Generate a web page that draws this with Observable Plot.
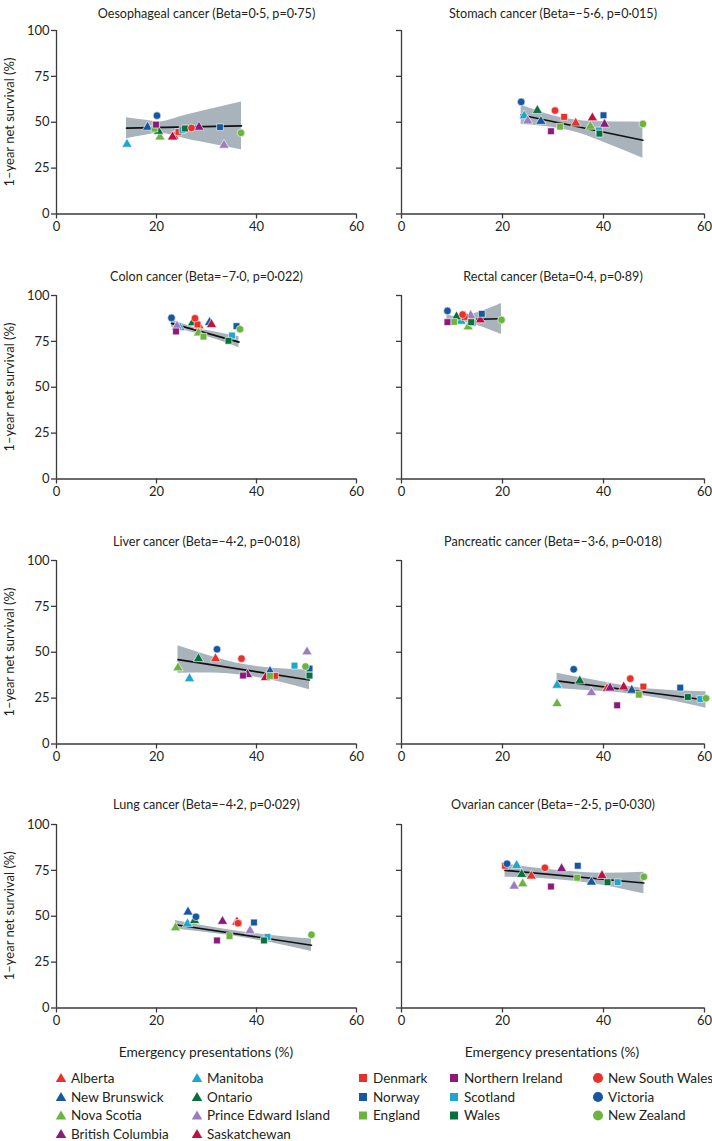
<!DOCTYPE html>
<html><head><meta charset="utf-8">
<script src="https://cdn.jsdelivr.net/npm/d3@7"></script>
<script src="https://cdn.jsdelivr.net/npm/@observablehq/plot@0.6"></script>
<style>
body{margin:0;background:#fff;}
#chart{position:relative;width:712px;height:1141px;overflow:hidden;font-family:Lato,"Open Sans",sans-serif;}
.panel{position:absolute;}
</style></head><body><div id="chart"></div>
<script>
// ---------- data ----------
const regions = ["Alberta","New Brunswick","Nova Scotia","British Columbia","Manitoba","Ontario","Prince Edward Island","Saskatchewan","Denmark","Norway","England","Northern Ireland","Scotland","Wales","New South Wales","Victoria","New Zealand"];
const regionColors = ["#e8312a","#1557a0","#6db33f","#8a1a7c","#1ea6cb","#08703a","#9c7dc0","#c0103f","#e8312a","#1557a0","#6db33f","#8a1a7c","#1ea6cb","#08703a","#e8312a","#1557a0","#6db33f"];
const regionShapes = ["triangle","triangle","triangle","triangle","triangle","triangle","triangle","triangle","square","square","square","square","square","square","circle","circle","circle"];
const legendColumns = [[0,1,2,3],[4,5,6,7],[8,9,10],[11,12,13],[14,15,16]];

const cancerTitles = [
  "Oesophageal cancer (Beta=0·5, p=0·75)",
  "Stomach cancer (Beta=–5·6, p=0·015)",
  "Colon cancer (Beta=–7·0, p=0·022)",
  "Rectal cancer (Beta=0·4, p=0·89)",
  "Liver cancer (Beta=–4·2, p=0·018)",
  "Pancreatic cancer (Beta=–3·6, p=0·018)",
  "Lung cancer (Beta=–4·2, p=0·029)",
  "Ovarian cancer (Beta=–2·5, p=0·030)"
];
const xTicks = [0, 20, 40, 60];
const yTicks = [0, 25, 50, 75, 100];
const yLabel = "1–year net survival (%)";
const xLabel = "Emergency presentations (%)";

// emergency presentations (%) and 1-year net survival (%), in region order
const oesophagealX = [23.5,18.2,20.7,28.5,14.1,20.4,33.5,23.2,24.4,32.7,19.6,19.9,25.2,25.7,27.0,20.1,36.9];
const oesophagealY = [42.3,47.3,42.0,47.3,38.0,45.1,37.5,42.0,44.7,47.3,46.5,48.7,45.8,46.6,46.9,53.6,44.2];
const stomachX = [34.5,27.6,37.4,40.2,24.3,26.9,25.0,37.8,32.2,40.0,31.4,29.6,39.1,39.2,30.4,23.7,47.8];
const stomachY = [49.5,50.5,47.8,48.9,53.5,56.4,50.7,52.4,52.9,53.8,47.6,45.1,45.5,43.8,56.4,61.1,49.1];
const colonX = [28.5,30.6,28.4,24.0,24.7,27.2,24.1,31.0,28.2,36.0,29.4,23.9,35.1,34.4,27.7,23.0,36.7];
const colonY = [83.5,85.3,79.6,82.8,82.5,85.1,83.3,84.2,84.2,83.3,77.6,80.4,78.2,75.3,87.6,87.8,81.6];
const rectalX = [12.6,11.6,13.2,13.6,11.8,10.9,13.7,15.6,12.5,15.9,10.4,9.1,14.1,13.8,12.1,9.1,19.8];
const rectalY = [88.7,86.5,82.9,88.3,86.0,88.4,89.1,86.7,88.3,90.0,85.6,85.5,85.1,85.5,89.6,91.6,86.7];
const liverX = [31.8,42.7,24.3,38.2,26.6,28.4,50.1,41.8,43.7,50.6,42.7,37.3,47.6,50.6,37.0,32.1,49.8];
const liverY = [46.5,39.6,41.5,37.8,35.6,46.5,50.2,36.2,37.1,41.1,37.1,37.3,42.7,37.3,46.5,51.6,42.2];
const pancreaticX = [40.7,45.6,30.8,41.3,30.8,35.3,37.6,44.0,47.9,55.2,47.0,42.7,59.2,56.7,45.3,34.1,60.3];
const pancreaticY = [30.2,29.3,22.0,30.5,32.0,34.4,28.0,31.1,31.3,30.7,26.9,21.1,24.5,25.6,35.6,40.7,24.9];
const lungX = [36.0,26.3,23.8,33.2,26.2,27.6,38.7,36.1,36.4,39.5,34.6,32.1,42.2,41.5,36.3,27.9,51.0];
const lungY = [46.9,52.3,43.7,47.2,45.9,47.7,42.1,46.8,46.3,46.6,39.2,36.8,38.7,36.8,46.2,49.7,39.9];
const ovarianX = [25.7,37.6,24.0,31.7,22.8,23.8,22.3,39.7,20.5,34.9,34.8,29.6,42.8,40.8,28.4,20.9,48.0];
const ovarianY = [71.9,68.6,67.7,75.9,77.7,72.8,66.4,72.2,77.5,77.5,71.0,66.2,68.6,68.6,76.4,78.6,71.5];

// fitted regression line end points
const fitXStart = [14.0, 23.7, 23.0, 9.0, 24.3, 30.8, 23.8, 20.5];
const fitYStart = [46.8, 54.0, 84.8, 86.7, 46.0, 34.4, 45.4, 75.0];
const fitXEnd   = [37.0, 47.8, 36.5, 19.8, 50.6, 60.3, 51.0, 48.0];
const fitYEnd   = [48.0, 40.2, 74.6, 87.3, 34.9, 24.0, 34.2, 68.1];

// 95% confidence band
const oesophagealBandX = [14, 17.5, 20.7, 23.5, 26, 31, 37];
const oesophagealBandLo = [41.0, 42.8, 44.0, 42.7, 40.9, 38.2, 35.0];
const oesophagealBandHi = [52.5, 51.2, 50.2, 51.9, 53.9, 57.2, 61.0];
const stomachBandX = [23.7, 28, 32, 36, 40, 44, 47.8];
const stomachBandLo = [48.8, 47.8, 46.2, 43.3, 39.1, 34.7, 30.4];
const stomachBandHi = [59.2, 55.2, 52.3, 50.7, 50.3, 50.1, 50.0];
const colonBandX = [23, 28, 32, 36.5];
const colonBandLo = [82.9, 79.3, 76.0, 71.5];
const colonBandHi = [86.6, 82.2, 80.0, 77.5];
const rectalBandX = [9, 11.5, 14, 17, 19.8];
const rectalBandLo = [84.0, 85.4, 84.5, 81.8, 78.7];
const rectalBandHi = [89.2, 88.4, 89.8, 92.5, 95.6];
const liverBandX = [24.3, 31, 37.5, 44, 50.6];
const liverBandLo = [38.5, 38.7, 37.3, 34.2, 29.5];
const liverBandHi = [53.5, 47.7, 43.3, 41.2, 40.3];
const pancreaticBandX = [30.8, 38, 45, 52, 60.3];
const pancreaticBandLo = [30.2, 28.9, 27.4, 24.4, 19.5];
const pancreaticBandHi = [38.6, 34.9, 31.4, 29.4, 28.5];
const lungBandX = [23.8, 30, 36, 43, 51];
const lungBandLo = [43.1, 41.2, 38.9, 35.5, 30.8];
const lungBandHi = [47.7, 44.6, 41.9, 39.5, 37.6];
const ovarianBandX = [20.5, 26, 32, 40, 48];
const ovarianBandLo = [71.3, 70.8, 69.6, 66.8, 62.2];
const ovarianBandHi = [78.7, 76.4, 74.6, 73.4, 74.0];

const panelX = [oesophagealX, stomachX, colonX, rectalX, liverX, pancreaticX, lungX, ovarianX];
const panelY = [oesophagealY, stomachY, colonY, rectalY, liverY, pancreaticY, lungY, ovarianY];
const bandX = [oesophagealBandX, stomachBandX, colonBandX, rectalBandX, liverBandX, pancreaticBandX, lungBandX, ovarianBandX];
const bandLo = [oesophagealBandLo, stomachBandLo, colonBandLo, rectalBandLo, liverBandLo, pancreaticBandLo, lungBandLo, ovarianBandLo];
const bandHi = [oesophagealBandHi, stomachBandHi, colonBandHi, rectalBandHi, liverBandHi, pancreaticBandHi, lungBandHi, ovarianBandHi];

// ---------- layout ----------
const FONT = "Lato, 'Open Sans', sans-serif";
const INK = "#231f20";
const AXIS = "#3a3a3a";
const rowY100 = [30.3, 295.3, 560.3, 824];
const titleOffset = [21, 23.5, 23.5, 24];
const plotH = 183.5;
const MT = 34, MB = 30;
const chart = document.getElementById("chart");

cancerTitles.forEach((title, i) => {
  const col = i % 2, row = Math.floor(i / 2);
  const left = col === 0;
  const ML = left ? 56 : 45, MR = left ? 6 : 8, W = left ? 362 : 356;
  const pts = regions.map((r, j) => ({region: r, x: panelX[i][j], y: panelY[i][j]}));
  const band = bandX[i].map((x, k) => ({x, lo: bandLo[i][k], hi: bandHi[i][k]}));
  const fit = [{x: fitXStart[i], y: fitYStart[i]}, {x: fitXEnd[i], y: fitYEnd[i]}];
  const marks = [
    Plot.areaY(band, {x: "x", y1: "lo", y2: "hi", fill: "#a9b3bb", curve: "monotone-x"}),
    Plot.line(fit, {x: "x", y: "y", stroke: "#111", strokeWidth: 1.6}),
    Plot.dot(pts, {x: "x", y: "y", fill: "region", symbol: "region", r: 3.8, stroke: "white", strokeWidth: 0.6}),
    Plot.ruleY([0], {x1: 0, x2: 60, stroke: AXIS, strokeWidth: 1.3}),
    Plot.ruleX([0], {y1: 0, y2: 100, stroke: AXIS, strokeWidth: 1.3}),
    Plot.axisX({ticks: xTicks, tickSize: 5, tickPadding: 3, label: null, stroke: AXIS, strokeWidth: 1.3, fill: INK}),
    Plot.axisY({ticks: yTicks, tickSize: 5, tickPadding: 2, label: null, stroke: AXIS, strokeWidth: 1.3, fill: INK,
                tickFormat: left ? (d => String(d)) : (() => "")}),
    Plot.text([title], {frameAnchor: "top", dy: -titleOffset[row], fontSize: 12.6, fill: INK})
  ];
  const svg = Plot.plot({
    width: W, height: plotH + MT + MB,
    marginLeft: ML, marginRight: MR, marginTop: MT, marginBottom: MB,
    style: {background: "transparent", fontFamily: FONT, fontSize: "13px", color: INK, overflow: "visible"},
    x: {domain: [0, 60]},
    y: {domain: [0, 100]},
    color: {domain: regions, range: regionColors},
    symbol: {domain: regions, range: regionShapes},
    marks
  });
  svg.classList.add("panel");
  svg.style.left = (left ? 0 : 356) + "px";
  svg.style.top = (rowY100[row] - MT) + "px";
  svg.style.maxWidth = "none";
  chart.appendChild(svg);
});

// ---------- overlay: axis titles and legend ----------
const overlay = d3.select(chart).append("svg")
  .attr("width", 712).attr("height", 1141)
  .style("position", "absolute").style("left", 0).style("top", 0)
  .style("pointer-events", "none")
  .style("font-family", FONT);

rowY100.forEach(y100 => {
  overlay.append("text")
    .attr("transform", `translate(9,${y100 + plotH / 2}) rotate(-90)`)
    .attr("text-anchor", "middle").attr("dy", "0.35em")
    .attr("font-size", 13).attr("fill", INK).text(yLabel);
});
[206, 552].forEach(cx => {
  overlay.append("text")
    .attr("x", cx).attr("y", 1052).attr("dy", "0.35em")
    .attr("text-anchor", "middle").attr("font-size", 13.8).attr("fill", INK).text(xLabel);
});

const legendMarkX = [61, 197, 363, 454, 598];
const legendRowY = [1078, 1097, 1115.5, 1134];
const symbolMap = {triangle: d3.symbolTriangle, square: d3.symbolSquare, circle: d3.symbolCircle};
const symbolSize = {triangle: 48, square: 64, circle: 80};
legendColumns.forEach((members, c) => {
  members.forEach((ri, r) => {
    const g = overlay.append("g").attr("transform", `translate(${legendMarkX[c]},${legendRowY[r]})`);
    const shape = regionShapes[ri];
    g.append("path")
      .attr("d", d3.symbol(symbolMap[shape], symbolSize[shape])())
      .attr("transform", shape === "triangle" ? "translate(0,1)" : null)
      .attr("fill", regionColors[ri]);
    g.append("text").attr("x", 10).attr("dy", "0.35em").attr("font-size", 13.5).attr("fill", INK).text(regions[ri]);
  });
});
</script>
</body></html>
